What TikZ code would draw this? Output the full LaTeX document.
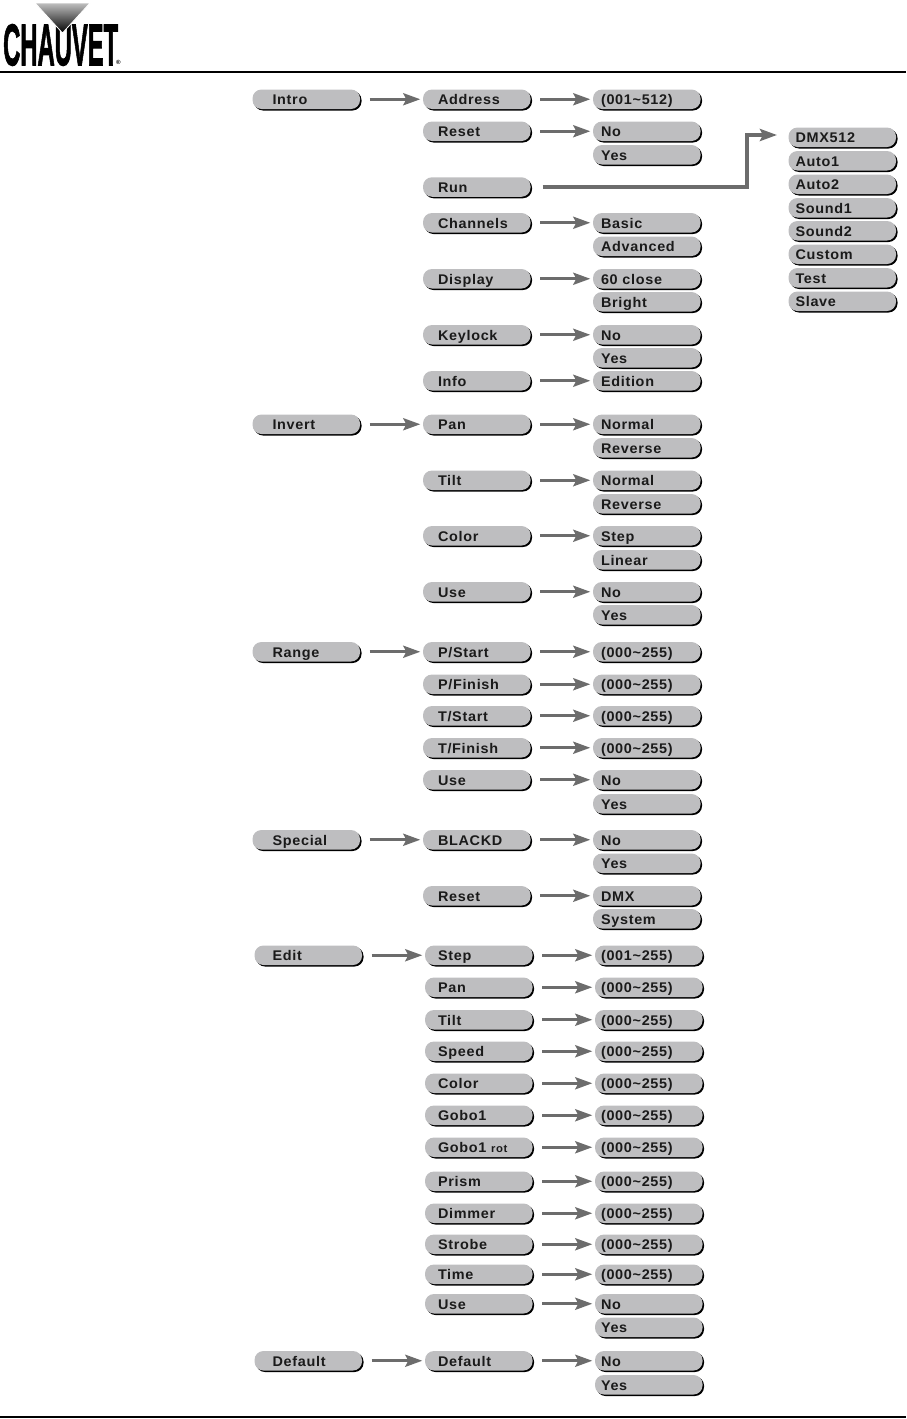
\documentclass[tikz,border=0pt]{standalone}
\usepackage{fontspec}
\usepackage{graphicx}
\setmainfont{Liberation Sans}[FakeStretch=1.03,LetterSpace=5]
\usetikzlibrary{arrows.meta,shadows}
\definecolor{pillgray}{HTML}{BEBEC0}
\definecolor{flowgray}{HTML}{6C6C6C}
\definecolor{labelblack}{HTML}{1A1A1A}

\begin{document}
\begin{tikzpicture}[x=1pt, y=-1pt, >=Latex, font=\fontsize{14}{16}\selectfont\bfseries]
  \tikzset{menu/.style={rectangle, rounded corners=9pt, fill=pillgray, text=labelblack, minimum height=19.5pt, minimum width=107.5pt, inner ysep=0pt, align=left, text height=10.5pt, text depth=0pt, xshift=-.75pt, yshift=.75pt, general shadow={fill=black, shadow xshift=1.5pt, shadow yshift=-1.5pt}}}
  \tikzset{topitem/.style={menu, inner xsep=20pt, text width=67.5pt}}
  \tikzset{subitem/.style={menu, inner xsep=15pt, text width=77.5pt}}
  \tikzset{valitem/.style={menu, inner xsep=8pt, text width=91.5pt}}
  \tikzset{runitem/.style={menu, inner xsep=7pt, text width=93.5pt}}
  \tikzset{toplow/.style={menu, inner xsep=18pt, text width=71.5pt}}
  \tikzset{sublow/.style={menu, inner xsep=13pt, text width=81.5pt}}
  \tikzset{vallow/.style={menu, inner xsep=6pt, text width=95.5pt}}
  \tikzset{flow/.style={-{Stealth[length=17pt, width=12pt, inset=3pt]}, line width=3pt, draw=flowgray, shorten <=9.5pt, shorten >=2.5pt}}
  \useasboundingbox (0,0) rectangle (906,1419);

  \draw[line width=1.5pt] (0,72) -- (906,72);
  \draw[line width=1.5pt] (0,1417) -- (906,1417);
  \node[inner sep=0pt, anchor=north west] (logo) at (3,24) {\resizebox{115pt}{41pt}{\fontspec{Liberation Sans}[FakeStretch=1,FakeBold=2]\bfseries CHAUVET}};
  \shade[top color=black!25, bottom color=black, draw=white, line width=.8pt] (35,3) -- (90,3) -- (62.5,33) -- cycle;
  \node[inner sep=0pt, font=\fontsize{6}{6}\selectfont\bfseries] (regmark) at (118.5,62) {®};

  \node[topitem] (intro) at (307,100) {Intro};
  \node[subitem] (address) at (477.5,100) {Address};
  \node[valitem] (addrval) at (647.5,100) {(001\textasciitilde 512)};
  \node[subitem] (reset) at (477.5,132) {Reset};
  \node[valitem] (resetno) at (647.5,132) {No};
  \node[valitem] (resetyes) at (647.5,155.5) {Yes};
  \node[subitem] (run) at (477.5,187.75) {Run};
  \node[subitem] (channels) at (477.5,223.5) {Channels};
  \node[valitem] (basic) at (647.5,223.5) {Basic};
  \node[valitem] (advanced) at (647.5,247) {Advanced};
  \node[subitem] (display) at (477.5,279.5) {Display};
  \node[valitem] (close) at (647.5,279.5) {60 close};
  \node[valitem] (bright) at (647.5,302.5) {Bright};
  \node[subitem] (keylock) at (477.5,335.5) {Keylock};
  \node[valitem] (keyno) at (647.5,335.5) {No};
  \node[valitem] (keyyes) at (647.5,358.5) {Yes};
  \node[subitem] (info) at (477.5,381.5) {Info};
  \node[valitem] (edition) at (647.5,381.5) {Edition};

  \node[runitem] (dmx) at (843,138) {DMX512};
  \node[runitem] (autoa) at (843,161.5) {Auto1};
  \node[runitem] (autob) at (843,185) {Auto2};
  \node[runitem] (sounda) at (843,208.5) {Sound1};
  \node[runitem] (soundb) at (843,231.5) {Sound2};
  \node[runitem] (custom) at (843,255) {Custom};
  \node[runitem] (test) at (843,278.5) {Test};
  \node[runitem] (slave) at (843,302) {Slave};

  \node[topitem] (invert) at (307,425) {Invert};
  \node[subitem] (pan) at (477.5,425) {Pan};
  \node[valitem] (pannorm) at (647.5,425) {Normal};
  \node[valitem] (panrev) at (647.5,448.5) {Reverse};
  \node[subitem] (tilt) at (477.5,481) {Tilt};
  \node[valitem] (tiltnorm) at (647.5,481) {Normal};
  \node[valitem] (tiltrev) at (647.5,504.5) {Reverse};
  \node[subitem] (color) at (477.5,536.5) {Color};
  \node[valitem] (colstep) at (647.5,536.5) {Step};
  \node[valitem] (collin) at (647.5,560.5) {Linear};
  \node[subitem] (use) at (477.5,592.5) {Use};
  \node[valitem] (useno) at (647.5,592.5) {No};
  \node[valitem] (useyes) at (647.5,615.5) {Yes};

  \node[topitem] (range) at (307,652.5) {Range};
  \node[subitem] (pstart) at (477.5,652.5) {P/Start};
  \node[valitem] (pstartval) at (647.5,652.5) {(000\textasciitilde 255)};
  \node[subitem] (pfinish) at (477.5,685) {P/Finish};
  \node[valitem] (pfinishval) at (647.5,685) {(000\textasciitilde 255)};
  \node[subitem] (tstart) at (477.5,716.5) {T/Start};
  \node[valitem] (tstartval) at (647.5,716.5) {(000\textasciitilde 255)};
  \node[subitem] (tfinish) at (477.5,748.5) {T/Finish};
  \node[valitem] (tfinishval) at (647.5,748.5) {(000\textasciitilde 255)};
  \node[subitem] (ruse) at (477.5,780.5) {Use};
  \node[valitem] (ruseno) at (647.5,780.5) {No};
  \node[valitem] (ruseyes) at (647.5,804.5) {Yes};

  \node[topitem] (special) at (307,840.5) {Special};
  \node[subitem] (blackd) at (477.5,840.5) {BLACKD};
  \node[valitem] (blackno) at (647.5,840.5) {No};
  \node[valitem] (blackyes) at (647.5,864) {Yes};
  \node[subitem] (sreset) at (477.5,896.5) {Reset};
  \node[valitem] (sdmx) at (647.5,896.5) {DMX};
  \node[valitem] (ssystem) at (647.5,919.5) {System};

  \node[toplow] (edit) at (309,956) {Edit};
  \node[sublow] (estep) at (479.5,956) {Step};
  \node[vallow] (estepval) at (649.5,956) {(001\textasciitilde 255)};
  \node[sublow] (epan) at (479.5,988) {Pan};
  \node[vallow] (epanval) at (649.5,988) {(000\textasciitilde 255)};
  \node[sublow] (etilt) at (479.5,1020.5) {Tilt};
  \node[vallow] (etiltval) at (649.5,1020.5) {(000\textasciitilde 255)};
  \node[sublow] (espeed) at (479.5,1052) {Speed};
  \node[vallow] (espeedval) at (649.5,1052) {(000\textasciitilde 255)};
  \node[sublow] (ecolor) at (479.5,1084) {Color};
  \node[vallow] (ecolorval) at (649.5,1084) {(000\textasciitilde 255)};
  \node[sublow] (egobo) at (479.5,1116) {Gobo1};
  \node[vallow] (egoboval) at (649.5,1116) {(000\textasciitilde 255)};
  \node[sublow] (egrot) at (479.5,1148) {Gobo1 {\fontsize{11}{13}\selectfont rot}};
  \node[vallow] (egrotval) at (649.5,1148) {(000\textasciitilde 255)};
  \node[sublow] (eprism) at (479.5,1182) {Prism};
  \node[vallow] (eprismval) at (649.5,1182) {(000\textasciitilde 255)};
  \node[sublow] (edimmer) at (479.5,1214) {Dimmer};
  \node[vallow] (edimmerval) at (649.5,1214) {(000\textasciitilde 255)};
  \node[sublow] (estrobe) at (479.5,1245) {Strobe};
  \node[vallow] (estrobeval) at (649.5,1245) {(000\textasciitilde 255)};
  \node[sublow] (etime) at (479.5,1275) {Time};
  \node[vallow] (etimeval) at (649.5,1275) {(000\textasciitilde 255)};
  \node[sublow] (euse) at (479.5,1304.5) {Use};
  \node[vallow] (euseno) at (649.5,1304.5) {No};
  \node[vallow] (euseyes) at (649.5,1328) {Yes};

  \node[toplow] (default) at (309,1361.5) {Default};
  \node[sublow] (defsub) at (479.5,1361.5) {Default};
  \node[vallow] (defno) at (649.5,1361.5) {No};
  \node[vallow] (defyes) at (649.5,1385.5) {Yes};

  \draw[flow] (intro) -- (address);
  \draw[flow] (address) -- (addrval);
  \draw[flow] (reset) -- (resetno);
  \draw[flow] (channels) -- (basic);
  \draw[flow] (display) -- (close);
  \draw[flow] (keylock) -- (keyno);
  \draw[flow] (info) -- (edition);
  \draw[flow] (invert) -- (pan);
  \draw[flow] (pan) -- (pannorm);
  \draw[flow] (tilt) -- (tiltnorm);
  \draw[flow] (color) -- (colstep);
  \draw[flow] (use) -- (useno);
  \draw[flow] (range) -- (pstart);
  \draw[flow] (pstart) -- (pstartval);
  \draw[flow] (pfinish) -- (pfinishval);
  \draw[flow] (tstart) -- (tstartval);
  \draw[flow] (tfinish) -- (tfinishval);
  \draw[flow] (ruse) -- (ruseno);
  \draw[flow] (special) -- (blackd);
  \draw[flow] (blackd) -- (blackno);
  \draw[flow] (sreset) -- (sdmx);
  \draw[flow] (edit) -- (estep);
  \draw[flow] (estep) -- (estepval);
  \draw[flow] (epan) -- (epanval);
  \draw[flow] (etilt) -- (etiltval);
  \draw[flow] (espeed) -- (espeedval);
  \draw[flow] (ecolor) -- (ecolorval);
  \draw[flow] (egobo) -- (egoboval);
  \draw[flow] (egrot) -- (egrotval);
  \draw[flow] (eprism) -- (eprismval);
  \draw[flow] (edimmer) -- (edimmerval);
  \draw[flow] (estrobe) -- (estrobeval);
  \draw[flow] (etime) -- (etimeval);
  \draw[flow] (euse) -- (euseno);
  \draw[flow] (default) -- (defsub);
  \draw[flow] (defsub) -- (defno);
  \coordinate (runbend) at (747,187);
  \coordinate (runtip) at (777,135);
  \draw[flow, shorten <=12pt, shorten >=0pt, line width=3.5pt] (run) -- (runbend) |- (runtip);
\end{tikzpicture}
\end{document}
